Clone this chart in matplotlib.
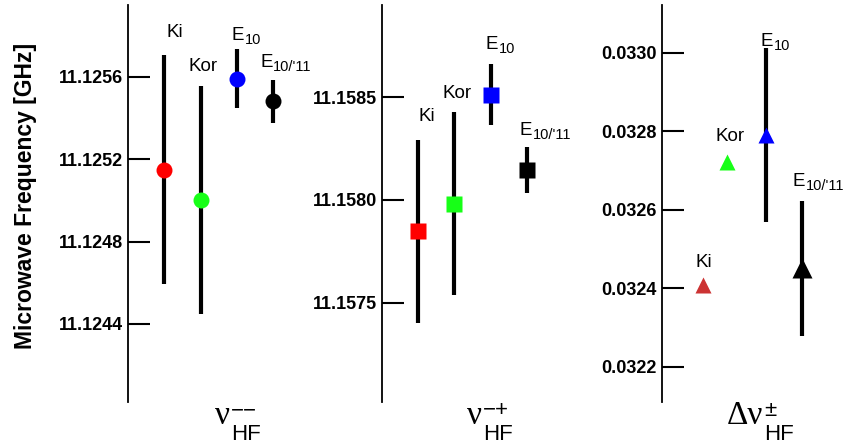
import numpy as np
import matplotlib
matplotlib.use("Agg")
import matplotlib.pyplot as plt
from matplotlib.transforms import IdentityTransform

plt.rcParams["font.family"] = ["Liberation Sans", "DejaVu Sans"]

# --- data ---
sources = ["Ki", "Kor", ("E", "10"), ("E", "10/'11")]
colors = ["#ff0000", "#17ff17", "#0000ff", "#000000"]

# nu(--) [GHz]
nu_mm = [11.125148, 11.125002, 11.125590, 11.125480]
nu_mm_err = [0.000555, 0.000555, 0.000143, 0.000104]

# nu(-+) [GHz]
nu_mp = [11.157848, 11.157982, 11.158512, 11.158145]
nu_mp_err = [0.000445, 0.000445, 0.000150, 0.000110]

# delta nu(+-) [GHz], no uncertainty given for Ki / Kor
dnu = [0.032409, 0.032720, 0.032790, 0.032450]
dnu_err = [np.nan, np.nan, 0.000221, 0.000172]
dnu_colors = ["#cc3333", "#17ff17", "#0000ff", "#000000"]
dnu_sizes = [12, 12, 12, 15]

panels = [
    dict(x=[1, 2, 3, 4], y=nu_mm, err=nu_mm_err, colors=colors, marker="o",
         sizes=[11.5] * 4, ylim=(11.124021, 11.125948),
         ticks=[11.1244, 11.1248, 11.1252, 11.1256],
         sym=("\u03bd", 215), sup="\u2212\u2212",
         offs=[(2, 23), (-12, 19), (-5, 16), (-13, 19)]),
    dict(x=[1, 2, 3, 4], y=nu_mp, err=nu_mp_err, colors=colors, marker="s",
         sizes=[12] * 4, ylim=(11.157017, 11.158948),
         ticks=[11.1575, 11.1580, 11.1585],
         sym=("\u03bd", 467), sup="\u2212+",
         offs=[(0, 23), (-12, 19), (-5, 21), (-7, 19)]),
    dict(x=[1.15, 1.8, 2.865, 3.857], y=dnu, err=dnu_err, colors=dnu_colors,
         marker="^", sizes=dnu_sizes, ylim=(0.032110, 0.033121),
         ticks=[0.0322, 0.0324, 0.0326, 0.0328, 0.0330],
         sym=("\u0394\u03bd", 727), sup="\u00b1",
         offs=[(-8, 22), (-12, 26), (-5, 9), (-9, 21)]),
]

W, H = 845.0, 446.0
fig = plt.figure(figsize=(W / 100, H / 100), dpi=100)
renderer = fig.canvas.get_renderer()
pix = IdentityTransform()
lefts = [128, 381.7, 661.7]


def with_sub(x, y, base, sub, fs, sub_fs, drop):
    # base text at pixel baseline (x, y), subscript hung off its right edge
    t = fig.text(x, y, base, transform=pix, fontsize=fs, ha="left", va="baseline")
    bb = t.get_window_extent(renderer)
    fig.text(bb.x1 + 0.5, y - drop, sub, transform=pix, fontsize=sub_fs,
             ha="left", va="baseline")


for left, p in zip(lefts, panels):
    ax = fig.add_axes([left / W, 1 - 402 / H, 167 / W, 397 / H])
    ax.set_xlim(0, 4.6)
    ax.set_ylim(*p["ylim"])
    for xi, yi, ei, c, ms in zip(p["x"], p["y"], p["err"], p["colors"], p["sizes"]):
        if not np.isnan(ei):
            ax.errorbar(xi, yi, yerr=ei, fmt="none", ecolor="black",
                        elinewidth=3, capsize=0, zorder=2)
        ax.plot(xi, yi, marker=p["marker"], color=c, ms=ms, mec="none",
                ls="none", zorder=3)
    for i, (xi, yi, ei) in enumerate(zip(p["x"], p["y"], p["err"])):
        top = yi + (0 if np.isnan(ei) else ei)
        dx, dy = p["offs"][i]
        label = sources[i]
        if isinstance(label, str):
            ax.annotate(label, (xi, top), xytext=(dx, dy),
                        textcoords="offset pixels", ha="left", va="center",
                        fontsize=13.5)
        else:
            px, py = ax.transData.transform((xi, top))
            with_sub(px + dx, py + dy - 6.5, label[0], label[1], 13.5, 10.5, 4)
    ax.set_yticks(p["ticks"])
    ax.set_yticklabels([f"{t:.4f}" for t in p["ticks"]],
                       fontweight="bold", fontsize=13)
    ax.tick_params(axis="y", direction="in", length=16, width=1.5, pad=3.4)
    ax.set_xticks([])
    for s in ["top", "right", "bottom"]:
        ax.spines[s].set_visible(False)
    ax.spines["left"].set_linewidth(1.3)
    ax.patch.set_alpha(0)

    # quantity symbol under each panel: greek letter(s) with sub/superscript
    txt, x0 = p["sym"]
    t = fig.text(x0, H - 424, txt, transform=pix, family="Liberation Serif",
                 fontsize=24, ha="left", va="baseline")
    x1 = t.get_window_extent(renderer).x1 + 1
    fig.text(x1, H - 416, p["sup"], transform=pix, fontsize=16,
             ha="left", va="baseline")
    fig.text(x1, H - 440, "HF", transform=pix, fontsize=16,
             ha="left", va="baseline")

fig.text(25.5 / W, 1 - 196 / H, "Microwave Frequency [GHz]", rotation=90,
         ha="center", va="center", fontsize=16.5, fontweight="bold")

fig.savefig("out.png", dpi=100)
